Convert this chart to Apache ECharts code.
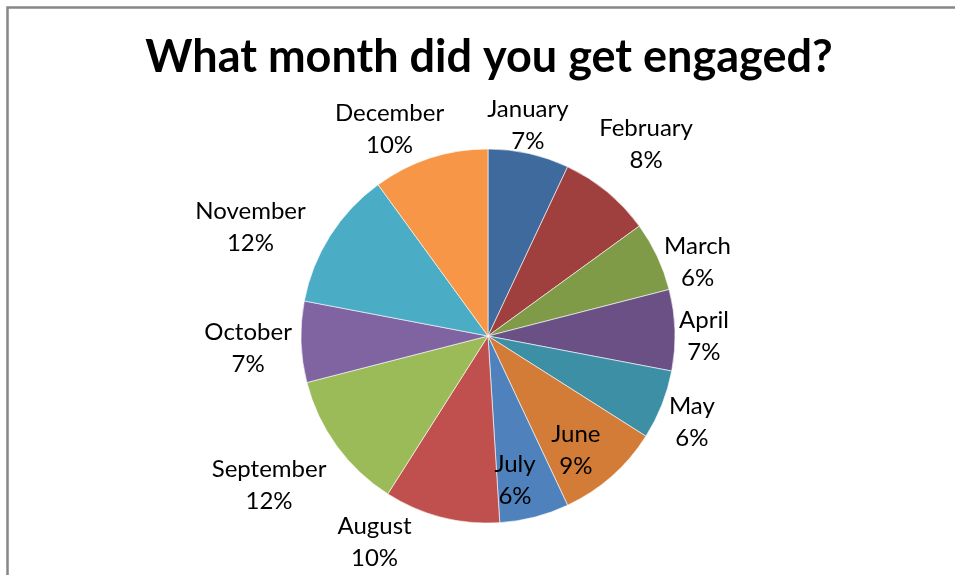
<!DOCTYPE html>
<html>
<head>
<meta charset="utf-8">
<script src="https://cdn.jsdelivr.net/npm/echarts@6/dist/echarts.min.js"></script>
<style>
  html, body { margin: 0; padding: 0; background: #fff; }
  #chart { width: 955px; height: 575px; }
</style>
</head>
<body>
<div id="chart"></div>
<script>
// Share of engagements by month (percent)
const months = ['January', 'February', 'March', 'April', 'May', 'June',
                'July', 'August', 'September', 'October', 'November', 'December'];
const shares = [7, 8, 6, 7, 6, 9, 6, 10, 12, 7, 12, 10];

const sliceColors = ['#3F6A9E', '#A0403E', '#7F9B48', '#6A5085', '#3C8FA5', '#D27C38',
                     '#4F81BD', '#C0504D', '#9BBB59', '#8064A2', '#4BACC6', '#F79646'];

// Labels drawn inside their slice instead of outside
const insideLabels = ['June', 'July'];

// Fine offsets (px) applied to each label after the pie lays it out
const labelNudge = [[-7, -1], [21, -26], [15, 18], [1, 7], [4, 7], [24, 42],
                    [3, 51], [-60, -2], [-45, 23], [-25, 6], [-56, 6], [-32, -2]];

const chart = echarts.init(document.getElementById('chart'), null, { renderer: 'canvas' });

const pieData = months.map((m, i) => {
  const item = { name: m, value: shares[i], itemStyle: { color: sliceColors[i] } };
  if (insideLabels.includes(m)) item.label = { position: 'inside' };
  return item;
});

chart.setOption({
  backgroundColor: '#ffffff',
  animation: false,
  title: {
    text: 'What month did you get engaged?',
    left: 484,
    top: 30,
    textAlign: 'center',
    textStyle: {
      fontFamily: 'Lato',
      fontWeight: 'bold',
      fontSize: 45,
      color: '#000'
    }
  },
  graphic: [{
    type: 'rect',
    shape: { x: 7.5, y: 7.5, width: 1200, height: 1000 },
    style: { fill: null, stroke: '#878787', lineWidth: 2.5 },
    silent: true
  }],
  series: [{
    type: 'pie',
    center: [488, 336],
    radius: 187,
    startAngle: 90,
    clockwise: true,
    avoidLabelOverlap: false,
    data: pieData,
    itemStyle: { borderColor: 'rgba(255,255,255,0.75)', borderWidth: 0.8 },
    label: {
      show: true,
      position: 'outside',
      alignTo: 'none',
      distanceToLabelLine: 0,
      formatter: '{b}\n{c}%',
      fontFamily: 'Lato',
      fontSize: 24,
      lineHeight: 32,
      color: '#000'
    },
    labelLine: { show: false, length: 28, length2: 0 },
    labelLayout: function (p) {
      const r = p.labelRect;
      let ax;
      if (p.align === 'left') ax = r.x;
      else if (p.align === 'right') ax = r.x + r.width;
      else ax = r.x + r.width / 2;
      const ay = r.y + r.height / 2;
      const n = labelNudge[p.dataIndex];
      return { x: ax + n[0], y: ay + n[1], align: 'center', verticalAlign: 'middle' };
    },
    emphasis: { disabled: true }
  }]
});
</script>
</body>
</html>
